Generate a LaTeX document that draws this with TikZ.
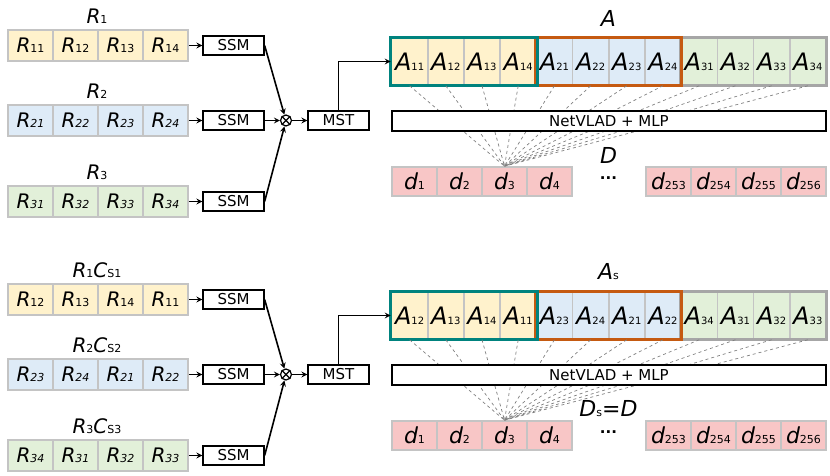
\documentclass[tikz,border=0pt]{standalone}
\usepackage{fontspec}
\setmainfont{DejaVu Sans}
\usetikzlibrary{arrows,positioning}

\definecolor{cellyel}{HTML}{FFF2CC}
\definecolor{cellblu}{HTML}{DEEBF7}
\definecolor{cellgrn}{HTML}{E2F0D9}
\definecolor{cellred}{HTML}{F8C6C6}
\definecolor{cellline}{HTML}{C4C4C4}
\definecolor{frteal}{HTML}{00837E}
\definecolor{frorange}{HTML}{C55A11}
\definecolor{frgray}{HTML}{A6A6A6}

\newcommand\bigsym[2]{{\fontsize{#2}{#2}\selectfont\itshape #1}}
\newcommand\smallsub[1]{{\fontsize{11}{11}\selectfont #1}}

\begin{document}
\begin{tikzpicture}[x=1pt,y=-1pt,>=stealth,
    rcell/.style={draw=cellline,line width=1.6pt,minimum width=45pt,minimum height=31pt,inner sep=0pt},
    acell/.style={draw=cellline,line width=1.6pt,minimum width=36.2pt,minimum height=47pt,inner sep=0pt},
    dcell/.style={draw=cellline,line width=1.6pt,fill=cellred,minimum width=45pt,minimum height=29pt,inner sep=0pt},
    proc/.style={draw,line width=1.3pt,fill=white,minimum width=61pt,minimum height=19pt,inner sep=0pt,font=\fontsize{15}{15}\selectfont},
    frame/.style={line width=3pt},
    dashline/.style={gray,dashed,line width=0.7pt},
    link/.style={->,line width=1.6pt}]
  \useasboundingbox (0,0) rectangle (830,476);
  \foreach \k/\dy in {0/0,1/254}{
  \begin{scope}[yshift=-\dy pt]
    % mixing and MST
    \node[draw,circle,line width=1.2pt,minimum size=11pt,inner sep=0pt] (ot\k) at (286,120.5) {};
    \draw[line width=1.2pt] (ot\k.north west) -- (ot\k.south east) (ot\k.north east) -- (ot\k.south west);
    \node[proc] (mst\k) at (338.5,120.5) {MST};
    % region rows and attention rows
    \foreach \r/\yy/\fc in {1/45.5/cellyel,2/120.5/cellblu,3/201.5/cellgrn}{
      \node (lr\k-\r) at (97,\yy-29) {\bigsym{R}{20}\smallsub{\r}\ifnum\k=1 \bigsym{C}{20}\smallsub{S\r}\fi};
      \foreach \i in {1,...,4}{
        \pgfmathtruncatemacro\j{mod(\i-1+\k*\r,4)+1}
        \pgfmathtruncatemacro\n{4*(\r-1)+\i}
        \node[rcell,fill=\fc] (r\k-\r-\i) at (45*\i-14.5,\yy) {\bigsym{R}{20}\smallsub{\ifnum\r>1 \itshape\fi\r\j}};
        \node[acell,fill=\fc] (a\k-\n) at (409.6+36.2*\n-36.2,61.5) {\bigsym{A}{24}{\fontsize{10}{10}\selectfont\r\j}};
      }
      \node[proc] (ssm\k-\r) at (233.5,\yy) {SSM};
      \draw[link] (r\k-\r-4) -- (ssm\k-\r);
    }
    \draw[frame,frgray] (a\k-9.north west) rectangle (a\k-12.south east);
    \draw[frame,frorange] (a\k-5.north west) rectangle (a\k-8.south east);
    \draw[frame,frteal] (a\k-1.north west) rectangle (a\k-4.south east);
    \draw[link] (ssm\k-1.east) -- (ot\k);
    \draw[link] (ssm\k-2) -- (ot\k);
    \draw[link] (ssm\k-3.east) -- (ot\k);
    \draw[link] (ot\k) -- (mst\k);
    \draw[link] (mst\k.north) |- (a\k-1.west);
    % descriptor
    \foreach \n/\s/\xx in {1/1/414.5,2/2/459.5,3/3/504.5,4/4/549.5,5/253/668.5,6/254/713.5,7/255/758.5,8/256/803.5}
      \node[dcell] (d\k-\n) at (\xx,181.5) {\bigsym{d}{22}\smallsub{\s}};
    \foreach \n in {1,...,12}
      \draw[dashline] (a\k-\n.south) -- (d\k-3.north);
    \node[proc,minimum width=434pt,minimum height=20pt] (net\k) at (609,121) {NetVLAD + MLP};
    \node (la\k) at (608.5,18) {\bigsym{A}{22}\ifnum\k=1 \smallsub{s}\fi};
    \node (ld\k) at (608.5,155) {\bigsym{D}{22}\ifnum\k=1 \smallsub{s}\bigsym{=D}{22}\fi};
    \node (dots\k) at (608.5,178) {\fontsize{15}{15}\selectfont\textbf{...}};
  \end{scope}
  }
\end{tikzpicture}
\end{document}
